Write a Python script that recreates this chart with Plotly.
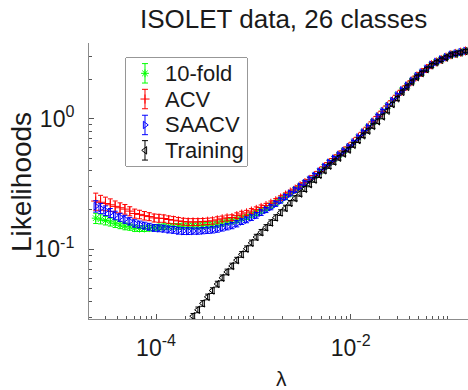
import plotly.graph_objects as go

# ---- data ----
lam_log10 = [-4.62, -4.57, -4.52, -4.47, -4.42, -4.37, -4.32, -4.27, -4.22, -4.17,
             -4.12, -4.07, -4.02, -3.97, -3.92, -3.87, -3.82, -3.77, -3.72, -3.67,
             -3.62, -3.57, -3.52, -3.47, -3.42, -3.37, -3.32, -3.27, -3.22, -3.17,
             -3.12, -3.07, -3.02, -2.97, -2.92, -2.87, -2.82, -2.77, -2.72, -2.67,
             -2.62, -2.57, -2.52, -2.47, -2.42, -2.37, -2.32, -2.27, -2.22, -2.17,
             -2.12, -2.07, -2.02, -1.97, -1.92, -1.87, -1.82, -1.77, -1.72, -1.67,
             -1.62, -1.57, -1.52, -1.47, -1.42, -1.37, -1.32, -1.27, -1.22, -1.17,
             -1.12, -1.07, -1.02, -0.97, -0.92, -0.87, -0.82]

tenfold = [0.173, 0.170, 0.166, 0.162, 0.157, 0.153, 0.150, 0.148, 0.145, 0.144,
           0.144, 0.145, 0.146, 0.148, 0.149, 0.150, 0.150, 0.150, 0.151, 0.151,
           0.151, 0.151, 0.152, 0.153, 0.154, 0.156, 0.159, 0.163, 0.165, 0.168,
           0.173, 0.177, 0.184, 0.190, 0.198, 0.207, 0.216, 0.227, 0.240, 0.253,
           0.267, 0.284, 0.302, 0.321, 0.342, 0.366, 0.394, 0.427, 0.460, 0.494,
           0.528, 0.566, 0.607, 0.659, 0.719, 0.785, 0.859, 0.944, 1.04, 1.14,
           1.25, 1.37, 1.51, 1.65, 1.79, 1.95, 2.12, 2.26, 2.42, 2.59,
           2.72, 2.84, 2.96, 3.09, 3.16, 3.23, 3.30]

acv = [0.234, 0.229, 0.224, 0.219, 0.213, 0.208, 0.203, 0.196, 0.188, 0.185,
       0.181, 0.178, 0.174, 0.173, 0.172, 0.169, 0.167, 0.165, 0.163, 0.162,
       0.162, 0.162, 0.163, 0.164, 0.165, 0.168, 0.171, 0.174, 0.175, 0.181,
       0.186, 0.190, 0.196, 0.202, 0.209, 0.216, 0.225, 0.235, 0.247, 0.260,
       0.274, 0.289, 0.307, 0.324, 0.343, 0.367, 0.395, 0.428, 0.461, 0.495,
       0.529, 0.567, 0.608, 0.660, 0.720, 0.786, 0.860, 0.945, 1.04, 1.14,
       1.25, 1.37, 1.51, 1.65, 1.79, 1.95, 2.12, 2.26, 2.42, 2.59,
       2.72, 2.84, 2.96, 3.09, 3.16, 3.23, 3.30]

saacv = [0.214, 0.206, 0.198, 0.190, 0.182, 0.176, 0.170, 0.164, 0.158, 0.155,
         0.152, 0.149, 0.146, 0.145, 0.144, 0.142, 0.141, 0.139, 0.138, 0.138,
         0.138, 0.138, 0.139, 0.140, 0.141, 0.143, 0.146, 0.149, 0.152, 0.157,
         0.163, 0.168, 0.175, 0.182, 0.191, 0.200, 0.210, 0.223, 0.236, 0.251,
         0.267, 0.284, 0.302, 0.321, 0.342, 0.366, 0.394, 0.427, 0.460, 0.494,
         0.528, 0.566, 0.607, 0.659, 0.719, 0.785, 0.859, 0.944, 1.04, 1.14,
         1.25, 1.37, 1.51, 1.65, 1.79, 1.95, 2.12, 2.26, 2.42, 2.59,
         2.72, 2.84, 2.96, 3.09, 3.16, 3.23, 3.30]

training = [0.00307, 0.00344, 0.00386, 0.00434, 0.00486, 0.00546, 0.00612, 0.00687, 0.00771, 0.00865,
            0.00971, 0.0109, 0.0122, 0.0137, 0.0154, 0.0173, 0.0194, 0.0217, 0.0244, 0.0274,
            0.0307, 0.0344, 0.0385, 0.0432, 0.0483, 0.0542, 0.0605, 0.0671, 0.0745, 0.0826,
            0.0914, 0.101, 0.112, 0.124, 0.135, 0.147, 0.160, 0.175, 0.191, 0.207,
            0.226, 0.246, 0.267, 0.290, 0.315, 0.341, 0.371, 0.402, 0.436, 0.469,
            0.502, 0.540, 0.579, 0.630, 0.684, 0.745, 0.809, 0.879, 0.955, 1.04,
            1.15, 1.29, 1.43, 1.60, 1.75, 1.91, 2.08, 2.23, 2.39, 2.56,
            2.70, 2.82, 2.94, 3.08, 3.14, 3.21, 3.29]

# relative half-widths of the error bars
rel_tenfold = [0.09, 0.08, 0.075, 0.07, 0.065, 0.06, 0.06, 0.055, 0.055, 0.05,
               0.05, 0.05, 0.05, 0.05, 0.05, 0.05, 0.05, 0.05, 0.05, 0.05,
               0.05, 0.05, 0.05, 0.05, 0.05, 0.05, 0.05, 0.05, 0.05, 0.05,
               0.045, 0.045, 0.045, 0.045, 0.045, 0.045, 0.045, 0.045, 0.045, 0.045,
               0.04, 0.04, 0.04, 0.04, 0.04, 0.04, 0.04, 0.04, 0.04, 0.04,
               0.03, 0.03, 0.03, 0.03, 0.03, 0.03, 0.03, 0.03, 0.03, 0.03,
               0.03, 0.03, 0.03, 0.03, 0.03, 0.03, 0.03, 0.03, 0.03, 0.03,
               0.03, 0.03, 0.03, 0.03, 0.03, 0.03, 0.03]
rel_acv = [0.15, 0.13, 0.12, 0.11, 0.10, 0.09, 0.085, 0.08, 0.08, 0.075,
           0.075, 0.07, 0.07, 0.07, 0.065, 0.065, 0.065, 0.06, 0.06, 0.06,
           0.06, 0.06, 0.055, 0.055, 0.055, 0.055, 0.05, 0.05, 0.05, 0.05,
           0.05, 0.045, 0.045, 0.045, 0.045, 0.04, 0.04, 0.04, 0.04, 0.04,
           0.035, 0.035, 0.035, 0.035, 0.035, 0.035, 0.035, 0.035, 0.035, 0.035,
           0.03, 0.03, 0.03, 0.03, 0.03, 0.03, 0.03, 0.03, 0.03, 0.03,
           0.03, 0.03, 0.03, 0.03, 0.03, 0.03, 0.03, 0.03, 0.03, 0.03,
           0.03, 0.03, 0.03, 0.03, 0.03, 0.03, 0.03]
rel_saacv = [0.10, 0.09, 0.085, 0.08, 0.075, 0.07, 0.07, 0.065, 0.065, 0.06,
             0.06, 0.06, 0.06, 0.06, 0.06, 0.06, 0.06, 0.06, 0.06, 0.06,
             0.055, 0.055, 0.055, 0.055, 0.055, 0.055, 0.055, 0.055, 0.055, 0.055,
             0.05, 0.05, 0.05, 0.05, 0.05, 0.045, 0.045, 0.045, 0.045, 0.045,
             0.04, 0.04, 0.04, 0.04, 0.04, 0.04, 0.04, 0.04, 0.04, 0.04,
             0.03, 0.03, 0.03, 0.03, 0.03, 0.03, 0.03, 0.03, 0.03, 0.03,
             0.03, 0.03, 0.03, 0.03, 0.03, 0.03, 0.03, 0.03, 0.03, 0.03,
             0.03, 0.03, 0.03, 0.03, 0.03, 0.03, 0.03]
rel_training = [0.05, 0.05, 0.05, 0.05, 0.05, 0.05, 0.05, 0.05, 0.05, 0.05,
                0.05, 0.05, 0.05, 0.05, 0.05, 0.05, 0.05, 0.05, 0.05, 0.05,
                0.05, 0.05, 0.05, 0.05, 0.05, 0.05, 0.05, 0.05, 0.05, 0.05,
                0.05, 0.05, 0.05, 0.05, 0.05, 0.05, 0.05, 0.05, 0.05, 0.05,
                0.045, 0.045, 0.045, 0.045, 0.045, 0.045, 0.045, 0.045, 0.045, 0.045,
                0.04, 0.04, 0.04, 0.04, 0.04, 0.04, 0.04, 0.04, 0.04, 0.04,
                0.035, 0.035, 0.035, 0.035, 0.035, 0.035, 0.035, 0.035, 0.035, 0.035,
                0.03, 0.03, 0.03, 0.03, 0.03, 0.03, 0.03]

series_names = ["10-fold", "ACV", "SAACV", "Training"]
x_major = [1e-4, 1e-2]
x_major_text = ["10<sup>-4</sup>", "10<sup>-2</sup>"]
y_major = [1e-1, 1e0]
y_major_text = ["10<sup>-1</sup>", "10<sup>0</sup>"]

lam = [10 ** v for v in lam_log10]

FONT = "Liberation Sans, Arial, sans-serif"
TXT = "#1a1a1a"

styles = [
    dict(color="#00ff00", symbol="asterisk-open"),
    dict(color="#ff0000", symbol="cross-thin-open"),
    dict(color="#0000ff", symbol="triangle-right-open"),
    dict(color="#000000", symbol="triangle-left-open"),
]
datasets = [(tenfold, rel_tenfold), (acv, rel_acv), (saacv, rel_saacv), (training, rel_training)]

fig = go.Figure()
for name, (vals, rel), st in zip(series_names, datasets, styles):
    err = [r * v for r, v in zip(rel, vals)]
    fig.add_trace(go.Scatter(
        x=lam, y=vals, name=name, mode="markers", showlegend=False,
        marker=dict(symbol=st["symbol"], size=6.5, color=st["color"],
                    line=dict(width=1, color=st["color"])),
        error_y=dict(type="data", array=err, color=st["color"], thickness=1, width=2.5),
    ))

# ---- legend box drawn on its own small (hidden) axes: layout only ----
LEG_X0, LEG_X1 = 0.0976, 0.4169   # paper fractions of the box
LEG_Y0, LEG_Y1 = 0.5543, 0.9457
key_x, text_x = 0.157, 0.306       # positions inside the box (0..1)
key_y = [0.858, 0.620, 0.380, 0.145]
for name, st, ky in zip(series_names, styles, key_y):
    fig.add_trace(go.Scatter(
        x=[key_x], y=[ky], mode="markers", showlegend=False, hoverinfo="skip",
        xaxis="x3", yaxis="y3",
        marker=dict(symbol=st["symbol"], size=6.5, color=st["color"],
                    line=dict(width=1, color=st["color"])),
        error_y=dict(type="constant", value=0.09, color=st["color"], thickness=1, width=3),
    ))

# minor tick positions
x_minor = []
for d in range(-5, 0):
    for k in range(2, 10):
        x_minor.append(k * 10 ** d)
x_minor += [1e-3, 1e-1]
y_minor = []
for d in range(-2, 1):
    for k in range(2, 10):
        y_minor.append(k * 10 ** d)

axis_common = dict(showline=True, linecolor="#8c8c8c", linewidth=1, mirror=False,
                   showgrid=False, zeroline=False, ticks="inside", tickcolor="#555555",
                   tickwidth=1, tickfont=dict(family=FONT, size=23, color=TXT))

annotations = [
    dict(text="\u03bb", xref="paper", yref="paper", x=0.509, y=-0.215,
         xanchor="center", yanchor="middle", showarrow=False,
         font=dict(family=FONT, size=21, color=TXT)),
    dict(text="Likelihoods", xref="paper", yref="paper", x=-0.1768, y=0.4964,
         xanchor="center", yanchor="middle", showarrow=False, textangle=-90,
         font=dict(family=FONT, size=28, color=TXT)),
]
for name, ky in zip(series_names, key_y):
    annotations.append(dict(text=name, xref="x3", yref="y3", x=text_x, y=ky,
                            xanchor="left", yanchor="middle", showarrow=False,
                            font=dict(family=FONT, size=22, color=TXT)))

fig.update_layout(
    width=468, height=390,
    margin=dict(l=89, r=0, t=43, b=71),
    paper_bgcolor="white", plot_bgcolor="white",
    font=dict(family=FONT, color=TXT),
    title=dict(text="ISOLET data, 26 classes", font=dict(family=FONT, size=26, color=TXT),
               x=0.606, xanchor="center", y=0.951, yanchor="middle", xref="container", yref="container"),
    xaxis=dict(type="log", range=[-4.689, -0.794], tickmode="array", tickvals=x_major,
               ticktext=x_major_text, ticklen=5, ticklabelstandoff=8,
               minor=dict(tickmode="array", tickvals=x_minor, ticks="inside", ticklen=3,
                          tickcolor="#555555", showgrid=False),
               **axis_common),
    yaxis=dict(type="log", range=[-1.534, 0.5796], tickmode="array", tickvals=y_major,
               ticktext=y_major_text, ticklen=5, ticklabelstandoff=9,
               minor=dict(tickmode="array", tickvals=y_minor, ticks="inside", ticklen=3,
                          tickcolor="#555555", showgrid=False),
               **axis_common),
    xaxis3=dict(domain=[LEG_X0, LEG_X1], range=[0, 1], visible=False, fixedrange=True),
    yaxis3=dict(domain=[LEG_Y0, LEG_Y1], range=[0, 1], visible=False, fixedrange=True,
                anchor="x3"),
    showlegend=False,
    shapes=[dict(type="rect", xref="paper", yref="paper", x0=LEG_X0, x1=LEG_X1,
                 y0=LEG_Y0, y1=LEG_Y1, line=dict(color="#333333", width=1),
                 fillcolor="white", layer="below")],
    annotations=annotations,
)

fig.write_html("out.html", config={"displayModeBar": False},
               post_script="document.body.style.margin='0px';")
